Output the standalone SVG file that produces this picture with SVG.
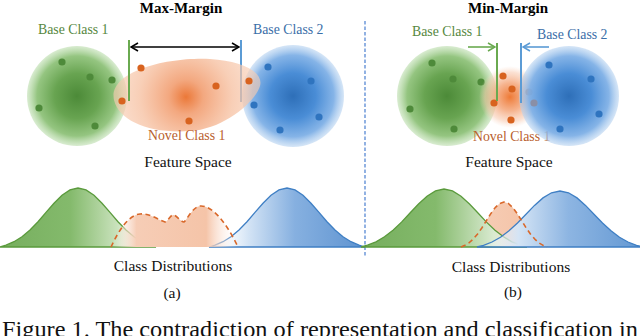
<svg xmlns="http://www.w3.org/2000/svg" width="640" height="336" viewBox="0 0 640 336">
<defs>
<style>
text{font-family:"Liberation Serif","Times New Roman",serif}
.title{font-size:15px;font-weight:bold;fill:#000}
.lab{font-size:13.8px}
.g{fill:#56873e}
.b{fill:#3a6ea8}
.o{fill:#b9602e}
.cap{font-size:15.5px;fill:#111}
.gd{fill:#4e8a3a}
.od{fill:#d8631f}
.bd{fill:#2f74bf}
.gline{stroke:#6aaa50;stroke-width:2;fill:none}
.bline{stroke:#5b9bd5;stroke-width:2;fill:none}
.gc{stroke:#5a9a3c;stroke-width:1.3;fill:url(#gfill)}
.gc2{stroke:#5a9a3c;stroke-width:1.3;fill:url(#gfill2)}
.bc{stroke:#3f7fc4;stroke-width:1.3;fill:url(#bfill)}
.bc2{stroke:#3f7fc4;stroke-width:1.3;fill:url(#bfill2)}
.oc{stroke:#d9682a;stroke-width:1.6;stroke-dasharray:5 3.5;stroke-linejoin:round}
.mk{fill:none;stroke-width:1.6;stroke-linejoin:miter}
</style>
<radialGradient id="greenBall">
<stop offset="0" stop-color="#4c8a38"/>
<stop offset="0.45" stop-color="#68a451"/>
<stop offset="0.8" stop-color="#8fc27a" stop-opacity="0.95"/>
<stop offset="1" stop-color="#b9dcaa" stop-opacity="0.55"/>
</radialGradient>
<radialGradient id="blueBall">
<stop offset="0" stop-color="#2e6fb8"/>
<stop offset="0.45" stop-color="#4a8dd6"/>
<stop offset="0.8" stop-color="#7fb0e6" stop-opacity="0.95"/>
<stop offset="1" stop-color="#b4d1f0" stop-opacity="0.55"/>
</radialGradient>
<radialGradient id="blob" cx="186" cy="97" r="78" gradientUnits="userSpaceOnUse">
<stop offset="0" stop-color="#eb7838"/>
<stop offset="0.22" stop-color="#f2a074" stop-opacity="0.92"/>
<stop offset="0.6" stop-color="#f6bf9f" stop-opacity="0.75"/>
<stop offset="1" stop-color="#f8d0b8" stop-opacity="0.6"/>
</radialGradient>
<radialGradient id="cloud">
<stop offset="0" stop-color="#ee7a36"/>
<stop offset="0.45" stop-color="#f4a67a" stop-opacity="0.85"/>
<stop offset="0.8" stop-color="#f8c8ad" stop-opacity="0.55"/>
<stop offset="1" stop-color="#fbd9c6" stop-opacity="0"/>
</radialGradient>
<linearGradient id="gfill" x1="0" y1="0" x2="1" y2="0">
<stop offset="0" stop-color="#76ae5e"/>
<stop offset="0.45" stop-color="#84ba6c"/>
<stop offset="0.75" stop-color="#c9e2bc"/>
<stop offset="1" stop-color="#ffffff" stop-opacity="0"/>
</linearGradient>
<linearGradient id="gfill2" x1="0" y1="0" x2="1" y2="0">
<stop offset="0" stop-color="#76ae5e"/>
<stop offset="0.45" stop-color="#84ba6c"/>
<stop offset="0.8" stop-color="#d9ead0"/>
<stop offset="1" stop-color="#ffffff" stop-opacity="0"/>
</linearGradient>
<linearGradient id="bfill" x1="0" y1="0" x2="1" y2="0">
<stop offset="0" stop-color="#ffffff" stop-opacity="0"/>
<stop offset="0.25" stop-color="#d4e4f5"/>
<stop offset="0.55" stop-color="#86b0e0"/>
<stop offset="1" stop-color="#5e93d0"/>
</linearGradient>
<linearGradient id="bfill2" x1="0" y1="0" x2="1" y2="0">
<stop offset="0" stop-color="#ffffff" stop-opacity="0"/>
<stop offset="0.25" stop-color="#d4e4f5"/>
<stop offset="0.55" stop-color="#8db5e2"/>
<stop offset="1" stop-color="#6297d2"/>
</linearGradient>
<linearGradient id="ofill" x1="0" y1="0" x2="1" y2="0">
<stop offset="0" stop-color="#ffffff" stop-opacity="0"/>
<stop offset="0.2" stop-color="#f6cdb6"/>
<stop offset="0.75" stop-color="#f5c4a8"/>
<stop offset="1" stop-color="#ffffff" stop-opacity="0"/>
</linearGradient>
<marker id="arrK" viewBox="0 0 10 10" refX="9" refY="5" markerWidth="10" markerHeight="10" markerUnits="userSpaceOnUse" orient="auto-start-reverse">
<path class="mk" d="M2,1 L9,5 L2,9" stroke="#000"/>
</marker>
<marker id="arrG" viewBox="0 0 10 10" refX="9" refY="5" markerWidth="10" markerHeight="10" markerUnits="userSpaceOnUse" orient="auto">
<path class="mk" d="M2,1 L9,5 L2,9" stroke="#6aaa50"/>
</marker>
<marker id="arrB" viewBox="0 0 10 10" refX="9" refY="5" markerWidth="10" markerHeight="10" markerUnits="userSpaceOnUse" orient="auto">
<path class="mk" d="M2,1 L9,5 L2,9" stroke="#5b9bd5"/>
</marker>
</defs>
<rect width="640" height="336" fill="#ffffff"/>

<g id="panel-a">
<text class="title" x="181" y="13" text-anchor="middle">Max-Margin</text>
<g id="a-base1">
<circle cx="77" cy="96" r="50" fill="url(#greenBall)"/>
<circle class="gd" cx="62" cy="62" r="3.6"/>
<circle class="gd" cx="90" cy="77" r="3.6"/>
<circle class="gd" cx="112" cy="80" r="3.6"/>
<circle class="gd" cx="39" cy="108" r="3.6"/>
<circle class="gd" cx="95" cy="126" r="3.6"/>
<text class="lab g" x="38" y="34">Base Class 1</text>
</g>
<g id="a-base2">
<circle cx="293" cy="96" r="51" fill="url(#blueBall)"/>
<circle class="bd" cx="268" cy="67" r="3.6"/>
<circle class="bd" cx="311" cy="81" r="3.6"/>
<circle class="bd" cx="254" cy="105" r="3.6"/>
<circle class="bd" cx="319" cy="117" r="3.6"/>
<circle class="bd" cx="280" cy="130" r="3.6"/>
<text class="lab b" x="253" y="34">Base Class 2</text>
</g>
<line class="bline" x1="241" y1="40" x2="241" y2="102"/>
<g id="a-novel">
<path d="M114,100 C108,72 165,57 210,59 C242,61 264,72 260,86 C255,102 224,129 190,131 C150,134 119,121 114,100 Z" fill="url(#blob)"/>
<circle class="od" cx="141" cy="68" r="3.6"/>
<circle class="od" cx="122" cy="101" r="3.6"/>
<circle class="od" cx="216" cy="86" r="3.6"/>
<circle class="od" cx="189" cy="121" r="3.6"/>
<circle class="od" cx="249" cy="81" r="3.6"/>
<text class="lab o" x="148" y="140">Novel Class 1</text>
</g>
<g id="a-connectors">
<line class="gline" x1="129" y1="40" x2="129" y2="101"/>
<line x1="131" y1="47" x2="239" y2="47" stroke="#000" stroke-width="1.6" marker-start="url(#arrK)" marker-end="url(#arrK)"/>
</g>
<text class="cap" x="188" y="167" text-anchor="middle">Feature Space</text>
<g id="a-dists">
<path class="gc" d="M0,247 L6,245.2 L14,241.7 L22,236.7 L30,230 L38,221.7 L46,212.4 L54,203.2 L62,195.3 L70,189.9 L78,188 L86,189.9 L94,195.3 L102,203.2 L110,212.4 L118,221.7 L126,230 L134,236.7 L142,241.7 L150,245.2 L156,247 Z"/>
<path class="bc" d="M209,247 L215,245.2 L223,241.7 L231,236.7 L239,230 L247,221.7 L255,212.4 L263,203.2 L271,195.3 L279,189.9 L287,188 L295,189.9 L303,195.3 L311,203.2 L319,212.4 L327,221.7 L335,230 L343,236.7 L351,241.7 L359,245.2 L365,247 Z"/>
<path d="M111,247 C118,232 128,215 140,214 C150,213 158,220 165,222 C169,220 171,214 174,215 C177,216 181,222 184,222 C188,218 193,207 200,206 C212,205 226,222 238,247 Z" fill="url(#ofill)"/>
<path class="oc" fill="none" d="M111,247 C118,232 128,215 140,214 C150,213 158,220 165,222 C169,220 171,214 174,215 C177,216 181,222 184,222 C188,218 193,207 200,206 C212,205 226,222 238,247"/>
</g>
<text class="cap" x="173" y="271" text-anchor="middle">Class Distributions</text>
<text class="cap" x="172" y="298" text-anchor="middle">(a)</text>
</g>

<line id="separator" x1="365" y1="21" x2="365" y2="256" stroke="#4a7fd0" stroke-width="1.2" stroke-dasharray="3.5 2"/>

<g id="panel-b">
<text class="title" x="508" y="13" text-anchor="middle">Min-Margin</text>
<g id="b-base1">
<circle cx="447" cy="96" r="50" fill="url(#greenBall)"/>
<circle class="gd" cx="432" cy="63" r="3.6"/>
<circle class="gd" cx="453" cy="79" r="3.6"/>
<circle class="gd" cx="481" cy="82" r="3.6"/>
<circle class="gd" cx="410" cy="109" r="3.6"/>
<circle class="gd" cx="454" cy="129" r="3.6"/>
<text class="lab g" x="412" y="36">Base Class 1</text>
</g>
<g id="b-novel">
<circle cx="510" cy="97" r="31" fill="url(#cloud)"/>
<circle class="od" cx="503" cy="76" r="3.6"/>
<circle class="od" cx="512" cy="89" r="3.6"/>
<circle class="od" cx="529" cy="92" r="3.6"/>
<circle class="od" cx="494" cy="103" r="3.6"/>
<circle class="od" cx="511" cy="120" r="3.6"/>
<text class="lab o" x="473" y="141">Novel Class 1</text>
</g>
<g id="b-base2">
<circle cx="569" cy="96" r="50" fill="url(#blueBall)"/>
<circle cx="534" cy="103" r="3.6" fill="#8a8fa6"/>
<circle class="bd" cx="549" cy="65" r="3.6"/>
<circle class="bd" cx="591" cy="79" r="3.6"/>
<circle class="bd" cx="599" cy="114" r="3.6"/>
<circle class="bd" cx="560" cy="129" r="3.6"/>
<text class="lab b" x="537" y="39">Base Class 2</text>
</g>
<g id="b-connectors">
<line class="gline" x1="497" y1="43" x2="497" y2="101"/>
<line class="bline" x1="521" y1="43" x2="521" y2="103" stroke="#8aa6c4"/>
<line x1="468" y1="47" x2="495" y2="47" stroke="#6aaa50" stroke-width="1.6" marker-end="url(#arrG)"/>
<line x1="549" y1="47" x2="523" y2="47" stroke="#5b9bd5" stroke-width="1.6" marker-end="url(#arrB)"/>
</g>
<text class="cap" x="509" y="167" text-anchor="middle">Feature Space</text>
<g id="b-dists">
<path d="M461,247 L464.4,245.6 L468.8,243 L473.2,239.1 L477.6,234 L482,227.7 L486.4,220.6 L490.8,213.6 L495.2,207.6 L499.6,203.5 L504,202 L508.4,203.5 L512.8,207.6 L517.2,213.6 L521.6,220.6 L526,227.7 L530.4,234 L534.8,239.1 L539.2,243 L543.6,245.6 L547,247 Z" fill="url(#ofill)"/>
<path class="gc2" d="M361,247 L367.5,245.2 L376,241.8 L384.5,236.8 L393,230.2 L401.5,222.1 L410,213 L418.5,204 L427,196.2 L435.5,190.9 L444,189 L452.5,190.9 L461,196.2 L469.5,204 L478,213 L486.5,222.1 L495,230.2 L503.5,236.8 L512,241.8 L520.5,245.2 L527,247 Z"/>
<path class="bc2" d="M477,247 L483.5,245.3 L492,242 L500.5,237.2 L509,230.8 L517.5,223 L526,214.2 L534.5,205.4 L543,197.9 L551.5,192.8 L560,191 L568.5,192.8 L577,197.9 L585.5,205.4 L594,214.2 L602.5,223 L611,230.8 L619.5,237.2 L628,242 L636.5,245.3 L643,247 Z"/>
<path class="oc" fill="none" d="M461,247 L464.4,245.6 L468.8,243 L473.2,239.1 L477.6,234 L482,227.7 L486.4,220.6 L490.8,213.6 L495.2,207.6 L499.6,203.5 L504,202 L508.4,203.5 L512.8,207.6 L517.2,213.6 L521.6,220.6 L526,227.7 L530.4,234 L534.8,239.1 L539.2,243 L543.6,245.6 L547,247"/>
</g>
<text class="cap" x="511" y="272" text-anchor="middle">Class Distributions</text>
<text class="cap" x="513" y="297" text-anchor="middle">(b)</text>
</g>

<text x="2" y="336.5" font-size="23.5" fill="#111" textLength="636" lengthAdjust="spacingAndGlyphs">Figure 1. The contradiction of representation and classification in</text>
</svg>
